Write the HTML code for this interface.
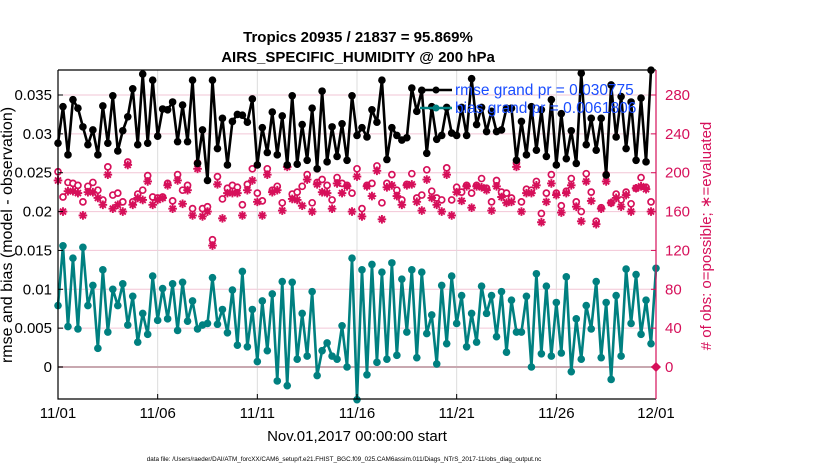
<!DOCTYPE html>
<html><head><meta charset="utf-8"><style>
html,body{margin:0;padding:0;background:#fff;}
svg{display:block;font-family:"Liberation Sans",Arial,sans-serif;}
</style></head><body>
<svg id="chart" width="830" height="470" viewBox="0 0 830 470" xmlns="http://www.w3.org/2000/svg">
<text x="358" y="42" text-anchor="middle" font-size="15" font-weight="bold">Tropics 20935 / 21837 = 95.869%</text>
<text x="358" y="62" text-anchor="middle" font-size="15" font-weight="bold">AIRS_SPECIFIC_HUMIDITY @ 200 hPa</text>
<g id="grid"></g>
<g id="series"></g>
<g id="axes"></g>
<text transform="translate(12,235) rotate(-90)" text-anchor="middle" font-size="16">rmse and bias (model - observation)</text>
<text transform="translate(711,236) rotate(-90)" text-anchor="middle" font-size="15" fill="#d6105a"># of obs: o=possible; ∗=evaluated</text>
<text x="357" y="441" text-anchor="middle" font-size="15">Nov.01,2017 00:00:00 start</text>
<text x="344" y="461" text-anchor="middle" font-size="6.3">data file: /Users/raeder/DAI/ATM_forcXX/CAM6_setup/f.e21.FHIST_BGC.f09_025.CAM6assim.011/Diags_NTrS_2017-11/obs_diag_output.nc</text>
<g>
<line x1="420" y1="90" x2="452" y2="90" stroke="#000" stroke-width="2.5"/>
<circle cx="436" cy="90" r="3.5" fill="#000"/>
<text x="455" y="95" font-size="15.5" fill="#1a4dff">rmse grand pr = 0.030775</text>
<line x1="420" y1="108" x2="452" y2="108" stroke="#008080" stroke-width="2.5"/>
<circle cx="436" cy="108" r="3.5" fill="#008080"/>
<text x="455" y="113" font-size="15.5" fill="#1a4dff">bias grand pr = 0.0061806</text>
</g>
</svg>
<script>
const rmse=[0.0288,0.0335,0.0273,0.0344,0.0333,0.0309,0.0286,0.0305,0.0273,0.0336,0.0288,0.0349,0.0278,0.0304,0.0322,0.0358,0.0286,0.0377,0.0288,0.0369,0.0297,0.0332,0.0331,0.0341,0.0290,0.0337,0.0290,0.0369,0.0262,0.0305,0.0240,
0.0369,0.0281,0.0320,0.0260,0.0316,0.0325,0.0324,0.0315,0.0345,0.0260,0.0308,0.0276,0.0328,0.0273,0.0323,0.0260,0.0349,0.0261,0.0312,0.0266,0.0333,0.0255,0.0355,0.0264,0.0309,0.0271,0.0313,0.0266,0.0349,0.0298,0.0308,
0.0296,0.0331,0.0315,0.0369,0.0267,0.0308,0.0298,0.0292,0.0295,0.0359,0.0329,0.0356,0.0275,0.0335,0.0293,0.0298,0.0334,0.0301,0.0298,0.0334,0.0298,0.0371,0.0312,0.0334,0.0303,0.0329,0.0303,0.0305,0.0333,0.0333,
0.0266,0.0316,0.0273,0.0335,0.0279,0.0331,0.0271,0.0344,0.0260,0.0326,0.0268,0.0304,0.0262,0.0378,0.0286,0.0320,0.0279,0.0320,0.0247,0.0363,0.0296,0.0348,0.0281,0.0341,0.0266,0.0346,0.0264,0.0382];
const bias=[0.0079,0.0156,0.0052,0.0140,0.0049,0.0154,0.0079,0.0105,0.0024,0.0125,0.0045,0.0100,0.0079,0.0107,0.0054,0.0091,0.0032,0.0069,0.0042,0.0117,0.0060,0.0101,0.0062,0.0107,0.0047,0.0109,0.0059,0.0085,0.0049,0.0054,0.0056,
0.0115,0.0055,0.0074,0.0044,0.0099,0.0028,0.0123,0.0026,0.0074,0.0007,0.0085,0.0021,0.0094,-0.0018,0.0110,-0.0024,0.0109,0.0010,0.0069,0.0014,0.0097,-0.0011,0.0021,0.0031,0.0014,0.0010,0.0053,0.0000,0.0140,-0.0042,0.0125,
-0.0010,0.0132,0.0006,0.0122,0.0010,0.0134,0.0015,0.0113,0.0045,0.0125,0.0012,0.0122,0.0043,0.0067,0.0004,0.0105,0.0030,0.0117,0.0056,0.0092,0.0026,0.0069,0.0032,0.0104,0.0069,0.0092,0.0039,0.0097,0.0019,0.0086,0.0045,
0.0045,0.0091,0.0000,0.0120,0.0017,0.0104,0.0014,0.0083,0.0018,0.0116,-0.0006,0.0062,0.0010,0.0079,0.0049,0.0110,0.0012,0.0083,-0.0016,0.0092,0.0014,0.0126,0.0056,0.0119,0.0042,0.0086,0.0030,0.0127];
const nPossible=[201,175,190,189,187,170,186,190,182,172,206,177,179,170,211,170,178,182,197,175,174,175,189,171,198,182,187,163,210,163,165,
131,196,173,184,187,185,167,188,204,179,171,204,182,186,169,207,178,180,186,198,169,190,193,187,172,195,189,187,179,204,163,
187,189,207,169,189,198,182,172,188,199,174,177,203,181,174,172,205,172,185,180,187,179,187,194,184,170,192,180,179,174,
210,170,183,182,191,158,179,198,179,166,181,194,170,160,199,180,150,164,198,169,178,172,180,168,184,195,185,170];
const nEvaluated=[192,160,181,181,179,156,180,180,174,167,198,163,167,160,208,167,174,172,191,167,172,174,187,163,192,168,182,156,204,155,160,
125,188,153,179,179,179,156,182,192,170,156,198,180,182,161,206,173,172,166,193,160,188,180,179,163,189,179,186,160,196,155,
186,176,202,152,185,187,176,167,187,188,170,161,193,174,167,160,198,156,180,171,186,164,186,185,182,161,186,175,169,170,
206,160,179,179,187,149,170,189,177,159,179,187,165,150,191,171,147,163,191,169,174,165,177,160,184,186,183,160];
const endPossible=0;
const leftTicks=[0,0.005,0.01,0.015,0.02,0.025,0.03,0.035];
const leftTickLabels=["0","0.005","0.01","0.015","0.02","0.025","0.03","0.035"];
const rightTicks=[0,40,80,120,160,200,240,280];
const dateTicks=[0,5,10,15,20,25,30];
const dateLabels=["11/01","11/06","11/11","11/16","11/21","11/26","12/01"];

const NS="http://www.w3.org/2000/svg";
const X0=58,X1=656,Y0=70,Y1=399;
const xDay=d=>X0+d*(X1-X0)/30;
const xIdx=i=>xDay(i/4);
const yL=v=>367-v*(272/0.035);
const yR=v=>367-v*(272/280);
const MAG="#d6105a";
function mk(tag,attrs,parent){const e=document.createElementNS(NS,tag);for(const k in attrs)e.setAttribute(k,attrs[k]);parent.appendChild(e);return e;}
const grid=document.getElementById('grid'),axes=document.getElementById('axes'),ser=document.getElementById('series');

mk('rect',{x:X0,y:Y0,width:X1-X0,height:Y1-Y0,fill:'#fff'},grid);
leftTicks.forEach((t,i)=>{
  if(t!==0){const g=mk('line',{x1:X0,x2:X1,y1:yL(t),y2:yL(t),stroke:'#f2c6d6','stroke-width':1},grid);
  
  }
  const tk=mk('line',{x1:X0,x2:X0+5,y1:yL(t),y2:yL(t),stroke:'#000'},axes);
  
  
  const lb=mk('text',{x:X0-6,y:yL(t)+5,'text-anchor':'end','font-size':15},axes);lb.textContent=leftTickLabels[i];
  
  
});
dateTicks.forEach((d,i)=>{
  if(d>0&&d<30){const g=mk('line',{x1:xDay(d),x2:xDay(d),y1:Y0,y2:Y1,stroke:'#dcdcdc','stroke-width':1},grid);
  
  }
  const tk=mk('line',{x1:xDay(d),x2:xDay(d),y1:Y1,y2:Y1-5,stroke:'#000'},axes);
  
  
  const lb=mk('text',{x:xDay(d),y:418,'text-anchor':'middle','font-size':15},axes);lb.textContent=dateLabels[i];
  
  
});
const zl=mk('line',{x1:X0,x2:X1,y1:yL(0),y2:yL(0),stroke:'#c8a8b0','stroke-width':2},grid);


rightTicks.forEach(t=>{
  const tk=mk('line',{x1:X1,x2:X1-5,y1:yR(t),y2:yR(t),stroke:MAG},axes);
  
  
  const lb=mk('text',{x:X1+9,y:yR(t)+5,'font-size':15,fill:MAG},axes);lb.textContent=t;
  
  
});
const f1=mk('path',{d:`M${X0},${Y0}H${X1}M${X0},${Y0}V${Y1}H${X1}`,fill:'none',stroke:'#000','stroke-width':1.2},axes);


const f2=mk('line',{x1:X1,x2:X1,y1:Y0,y2:Y1,stroke:MAG,'stroke-width':1.2},axes);



nPossible.forEach((v,i)=>{
  const c=mk('circle',{cx:xIdx(i),cy:yR(v),r:3,fill:'#fff',stroke:MAG,'stroke-width':1.7},ser);
  
  
});
nEvaluated.forEach((v,i)=>{
  const x=xIdx(i),y=yR(v),s=4.3;
  const p=mk('path',{d:`M${x-s},${y}H${x+s}M${x},${y-s}V${y+s}M${x-s*0.7},${y-s*0.7}L${x+s*0.7},${y+s*0.7}M${x-s*0.7},${y+s*0.7}L${x+s*0.7},${y-s*0.7}`,stroke:MAG,'stroke-width':1.9,fill:'none'},ser);
  
  
});
const dm=mk('path',{d:`M${X1-5},${yR(endPossible)}L${X1},${yR(endPossible)-5}L${X1+5},${yR(endPossible)}L${X1},${yR(endPossible)+5}Z`,fill:MAG},ser);



function drawLine(vals,color,name){
  const pl=mk('polyline',{points:vals.map((v,i)=>xIdx(i)+','+yL(v)).join(' '),fill:'none',stroke:color,'stroke-width':2.6,'stroke-linejoin':'round'},ser);
  
  
  vals.forEach((v,i)=>{
    const c=mk('circle',{cx:xIdx(i),cy:yL(v),r:3.8,fill:color},ser);
    
    
  });
}
drawLine(bias,'#008080','bias');
drawLine(rmse,'#000000','rmse');
</script>
</body></html>
